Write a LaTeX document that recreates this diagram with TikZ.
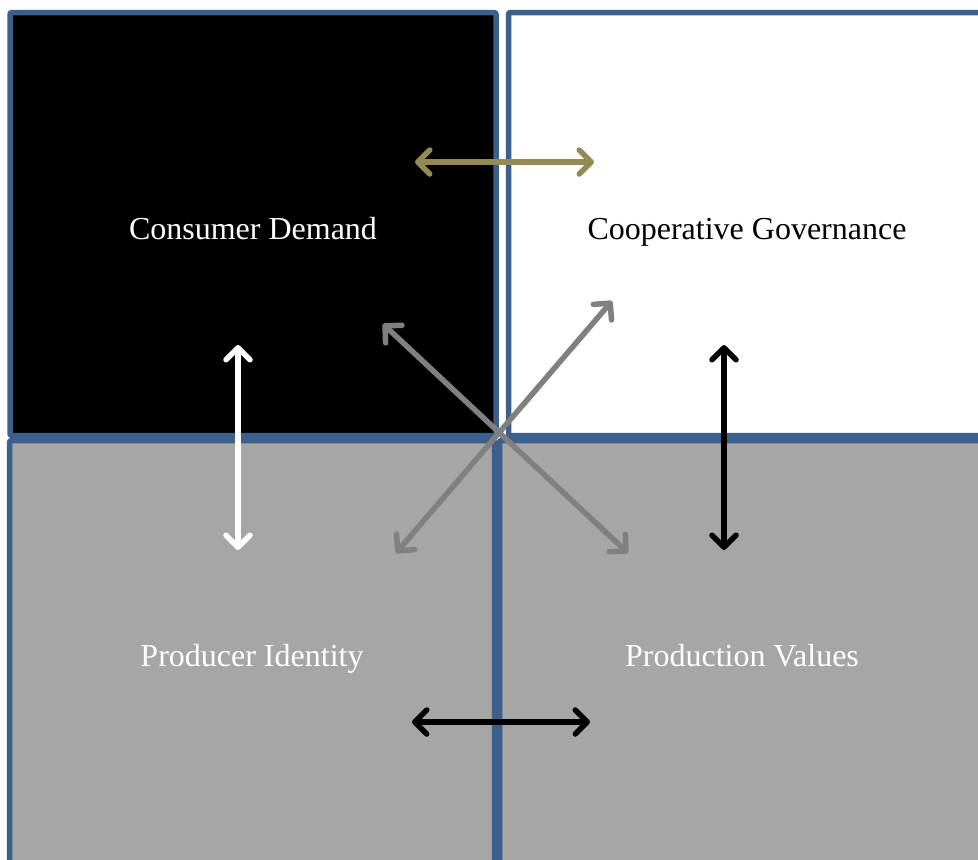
\documentclass[tikz,border=0pt]{standalone}
\usepackage{fontspec}
\setmainfont{Liberation Serif}
\usetikzlibrary{arrows.meta, calc}

\definecolor{frameblue}{RGB}{60,95,140}
\definecolor{quadgray}{RGB}{166,166,166}
\definecolor{olivearrow}{RGB}{148,138,84}
\definecolor{crossgray}{RGB}{128,128,128}

\tikzset{
  quad/.style 2 args={draw=frameblue, line width=5.5pt, rounded corners=2pt,
    minimum width=#1, minimum height=#2, inner sep=0pt, text depth=0pt,
    font=\fontsize{32}{38}\selectfont},
  barb/.tip={Straight Barb[length=12pt, width=24pt, round]},
  link/.style={line width=5.5pt, barb-barb}
}

\begin{document}
\begin{tikzpicture}[x=1pt, y=-1pt]

 %% Page
\useasboundingbox (0,0) rectangle (978,860);
\clip (0,0) rectangle (978,860);
\fill[white] (0,0) rectangle (978,860);

 %% Quadrants
\node[quad={486pt}{423pt}, fill=black, text=white, text height=30pt] (cd) at (253,224) {Consumer Demand};
\node[quad={477pt}{423pt}, fill=white, text=black, text height=30pt] (cg) at (747,224) {Cooperative Governance};
\node[quad={485pt}{429pt}, fill=quadgray, text=white, text height=22pt] (pi) at (252,655) {Producer Identity};
\node[quad={485pt}{429pt}, fill=quadgray, text=white, text height=22pt] (pv) at (742,655) {Production Values};

 %% Arrow ends
\coordinate (cdE) at (415,162);
\coordinate (cgW) at (594,162);
\coordinate (cdS) at (238,345);
\coordinate (piN) at (238,550);
\coordinate (cgS) at (724,345);
\coordinate (pvN) at (724,550);
\coordinate (piE) at (412,722);
\coordinate (pvW) at (590,722);
\coordinate (cdX) at (383,324);
\coordinate (pvX) at (628,553);
\coordinate (cgX) at (612,301);
\coordinate (piX) at (396,553);

 %% Links
\draw[link, olivearrow] (cdE) -- (cgW);
\draw[link, white] (cdS) -- (piN);
\draw[link, black] (cgS) -- (pvN);
\draw[link, black] (piE) -- (pvW);
% diagonals
\draw[link, crossgray] (cdX) -- (pvX);
\draw[link, crossgray] (cgX) -- (piX);

\end{tikzpicture}
\end{document}
